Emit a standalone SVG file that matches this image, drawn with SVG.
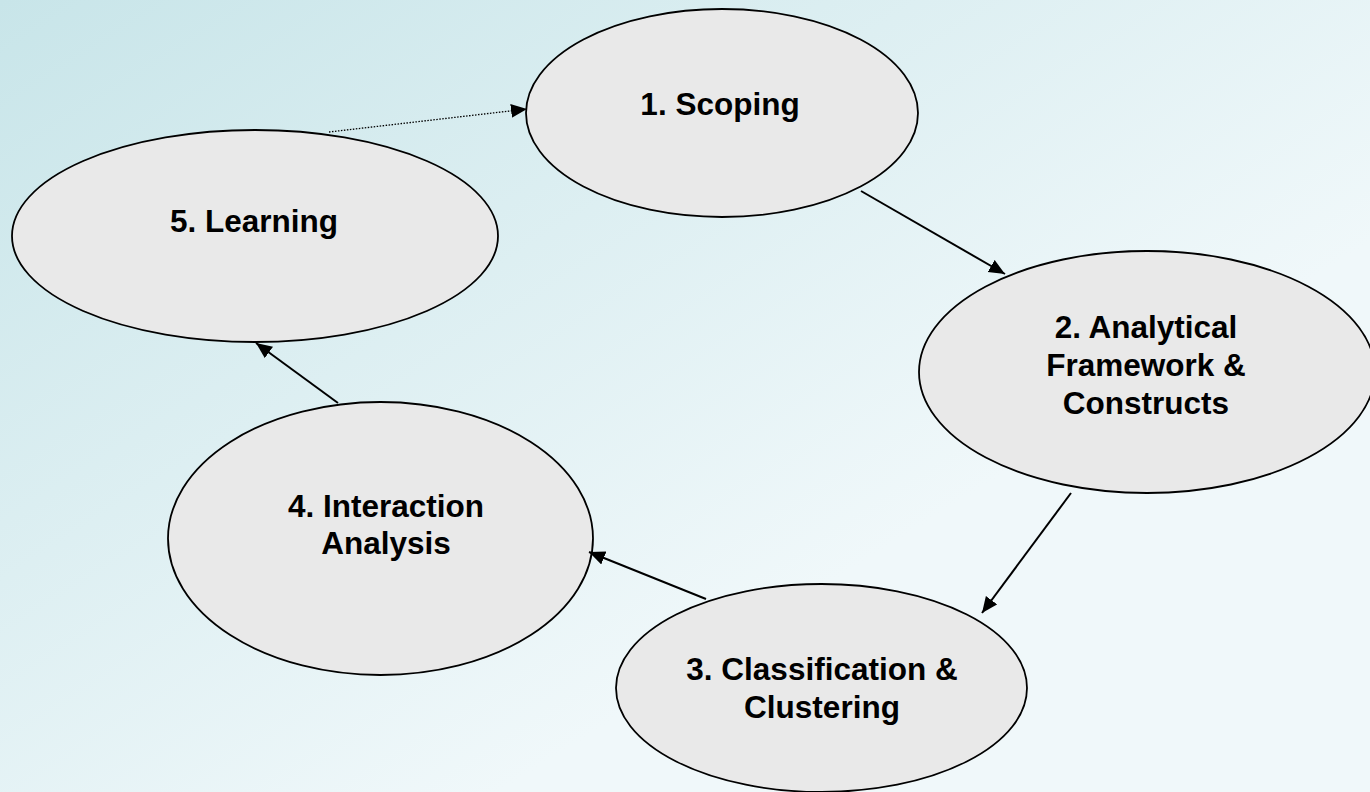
<svg xmlns="http://www.w3.org/2000/svg" width="1370" height="792" viewBox="0 0 1370 792">
<defs>
<linearGradient id="bg" gradientUnits="userSpaceOnUse" x1="0" y1="0" x2="500" y2="792">
<stop offset="0" stop-color="#c8e5e9"/>
<stop offset="1" stop-color="#f0f8fa"/>
</linearGradient>
<marker id="ah" markerUnits="userSpaceOnUse" markerWidth="17" markerHeight="15" refX="16" refY="7" orient="auto">
<path d="M0,0 L16,7 L0,14 z" fill="#000"/>
</marker>
</defs>
<style>
.node ellipse{fill:#e9e9e9;stroke:#000;stroke-width:1.8}
.node text{font-family:"Liberation Sans",Arial,sans-serif;font-weight:bold;font-size:31.5px;fill:#000;text-anchor:middle}
.conn line{stroke:#000;stroke-width:2;marker-end:url(#ah)}
.conn line.dot{stroke-width:1.3;stroke-dasharray:1.5 1.5}
</style>
<rect width="1370" height="792" fill="url(#bg)"/>
<g id="n1" class="node">
<ellipse cx="722" cy="113" rx="196" ry="104"/>
<text x="720" y="115">1. Scoping</text>
</g>
<g id="n2" class="node">
<ellipse cx="1147" cy="372" rx="228" ry="121"/>
<text x="1146" y="338">2. Analytical</text>
<text x="1146" y="376">Framework &amp;</text>
<text x="1146" y="414">Constructs</text>
</g>
<g id="n3" class="node">
<ellipse cx="821.5" cy="688" rx="205.5" ry="104"/>
<text x="822" y="680">3. Classification &amp;</text>
<text x="822" y="718">Clustering</text>
</g>
<g id="n4" class="node">
<ellipse cx="380.5" cy="538.5" rx="212.5" ry="136.5"/>
<text x="386" y="517">4. Interaction</text>
<text x="386" y="554">Analysis</text>
</g>
<g id="n5" class="node">
<ellipse cx="255" cy="236" rx="243" ry="106"/>
<text x="254" y="232">5. Learning</text>
</g>
<g id="connectors" class="conn">
<line class="dot" x1="329" y1="132" x2="527" y2="109"/>
<line x1="861" y1="191" x2="1005" y2="274"/>
<line x1="1071" y1="493" x2="982" y2="613"/>
<line x1="706" y1="599" x2="589" y2="552"/>
<line x1="338" y1="403" x2="256" y2="343"/>
</g>
</svg>
